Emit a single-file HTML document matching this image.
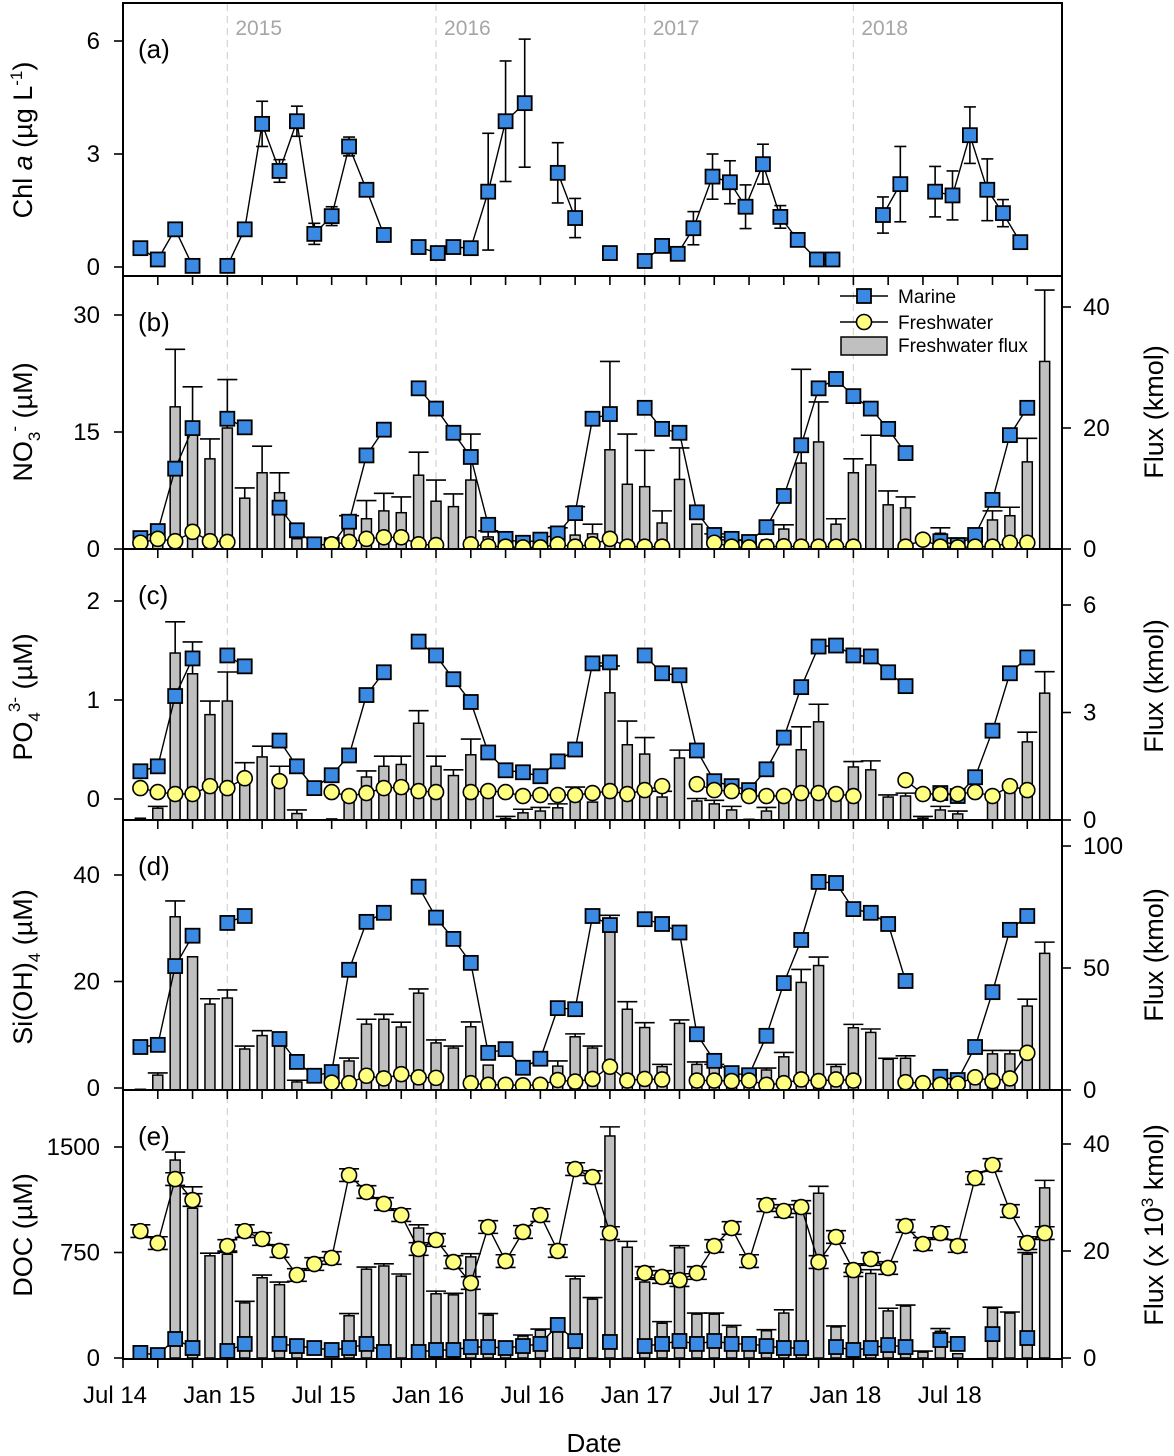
<!DOCTYPE html>
<html><head><meta charset="utf-8"><style>
html,body{margin:0;padding:0;background:#fff;}
svg{display:block;font-family:"Liberation Sans",Arial,sans-serif;}
</style></head><body>
<svg id="chart" width="1174" height="1456" viewBox="0 0 1174 1456" xmlns="http://www.w3.org/2000/svg">
<g id="bg"></g>
<g id="marks"></g>
<g id="axes"></g>
</svg>
<script>
// ---- data (t = months since Jul 2014) ----
const xLabels=["Jul 14","Jan 15","Jul 15","Jan 16","Jul 16","Jan 17","Jul 17","Jan 18","Jul 18"];
const yearLabels=["2015","2016","2017","2018"];
// (a) Chl a
const aT=[1,2,3,4,6,7,8,9,10,11,12,13,14,15,17,18.1,19,20,21,22,23.1,25,26,28,30,31,31.9,32.8,33.9,34.9,35.8,36.8,37.8,38.8,39.9,40.8,43.7,44.7,46.7,47.7,48.7,49.7,50.6,51.6];
const aChl=[0.5,0.2,1.0,0.03,0.03,1.0,3.8,2.55,3.87,0.88,1.35,3.2,2.05,0.85,0.53,0.37,0.53,0.5,2.0,3.87,4.35,2.5,1.3,0.37,0.16,0.56,0.35,1.03,2.4,2.25,1.6,2.73,1.33,0.72,0.2,0.2,1.38,2.2,2.0,1.9,3.5,2.05,1.43,0.66];
const aErr=[0.1,0.1,0.12,0.05,0.05,0.15,0.6,0.3,0.4,0.28,0.25,0.25,0.15,0.1,0.08,0.08,0.1,0.1,1.55,1.6,1.7,0.8,0.52,0.15,0.1,0.1,0.1,0.44,0.6,0.57,0.58,0.53,0.3,0.1,0.08,0.08,0.48,1.0,0.67,0.65,0.75,0.82,0.36,0.17];
// marine sampling months (b-d)
const marT=[1,2,3,4,6,7,9,10,11,12,13,14,15,17,18,19,20,21,22,23,24,25,26,27,28,30,31,32,33,34,35,36,37,38,39,40,41,42,43,44,45,47,48,49,50,51,52];
// (b) NO3
const bMar=[1.4,2.3,10.3,15.5,16.7,15.6,5.3,2.4,0.6,0.5,3.5,12,15.3,20.6,18,14.9,11.8,3.1,1.3,0.8,1.2,2,4.6,16.7,17.3,18.1,15.4,14.9,4.7,1.8,1.3,0.9,2.8,6.8,13.3,20.6,21.8,19.6,18,15.4,12.3,1.0,0.5,1.8,6.3,14.6,18.1];
const bFreT=[1,2,3,4,5,6,12,13,14,15,16,17,18,20,21,22,23,24,25,26,27,28,29,30,31,34,35,36,37,38,39,40,41,42,45,46,47,48,49,50,51,52];
const bFre=[0.8,1.3,1.0,2.2,1.0,0.9,0.6,0.9,1.3,1.5,1.5,0.6,0.5,0.6,0.35,0.3,0.2,0.2,0.6,0.3,0.6,1.3,0.3,0.3,0.3,0.8,0.3,0.2,0.3,0.35,0.3,0.3,0.3,0.3,0.3,1.2,0.3,0.2,0.3,0.3,0.8,0.8];
const bFluxT=[1,2,3,4,5,6,7,8,9,10,12,13,14,15,16,17,18,19,20,21,22,24,25,26,27,28,29,30,31,32,33,34,35,37,38,39,40,41,42,43,44,45,47,48,50,51,52,53];
const bFlux=[0.3,0.8,23.5,20,14.9,20,8.4,12.6,9.3,1.7,0.3,3.5,5,6.3,6,12.2,7.9,7,11.4,2,1.2,0.5,0.8,2.3,2.5,16.4,10.7,10.3,4.3,11.5,4.1,1.0,0.5,1.5,3.3,14.2,17.7,4.1,12.6,13.9,7.3,6.8,2.6,1,4.8,5.5,14.4,31];
const bFluxHi=[0,0,33,26.8,18.2,28,10.1,17,12.6,0,0,5.5,8,9.2,8.6,16,11.4,9.1,19,3,0,0,3.5,7,4.1,31,19,16.3,6.3,16.7,0,2.5,1.5,0,4,29.7,24.3,5,14.9,18.8,9.6,8.6,3.5,1.8,6.3,6.9,18.3,42.8];
// (c) PO4
const cMar=[0.28,0.33,1.04,1.42,1.45,1.34,0.59,0.33,0.11,0.24,0.44,1.05,1.28,1.59,1.45,1.21,0.98,0.47,0.29,0.27,0.23,0.38,0.5,1.37,1.38,1.45,1.27,1.25,0.49,0.18,0.13,0.09,0.3,0.62,1.13,1.54,1.55,1.45,1.44,1.28,1.14,0.06,0.03,0.22,0.69,1.27,1.43];
const cFreT=[1,2,3,4,5,6,7,9,12,13,14,15,16,17,18,20,21,22,23,24,25,26,27,28,29,30,31,33,34,35,36,37,38,39,40,41,42,45,46,47,48,49,50,51,52];
const cFre=[0.11,0.07,0.05,0.05,0.13,0.11,0.21,0.18,0.07,0.03,0.06,0.11,0.12,0.08,0.07,0.07,0.08,0.07,0.03,0.04,0.04,0.04,0.06,0.08,0.05,0.09,0.13,0.15,0.09,0.08,0.03,0.03,0.03,0.06,0.06,0.05,0.03,0.19,0.05,0.05,0.05,0.07,0.03,0.13,0.09];
const cFluxT=[1,2,3,4,5,6,7,8,9,10,12,13,14,15,16,17,18,19,20,21,22,23,24,25,26,27,28,29,30,31,32,33,34,35,36,37,38,39,40,41,42,43,44,45,46,47,48,50,51,52,53];
const cFlux=[0.05,0.33,4.66,4.08,2.94,3.32,1.17,1.76,1.06,0.18,0.03,0.6,1.2,1.5,1.55,2.7,1.5,1.24,1.82,0.8,0.04,0.2,0.25,0.34,0.6,0.5,3.55,2.1,1.84,0.64,1.73,0.53,0.45,0.28,0.02,0.25,0.6,1.96,2.74,0.6,1.48,1.4,0.64,0.67,0.05,0.28,0.17,0.5,1.06,2.18,3.54];
const cFluxHi=[0,0.38,5.53,4.97,3.32,4.13,1.6,2.06,1.5,0.28,0,0,1.37,1.78,1.78,3.05,1.78,1.4,2.26,0,0.1,0.3,0.35,0.45,0.92,0,4.3,2.76,2.3,0.8,1.95,0.6,0.55,0.38,0,0.35,0,2.6,3.23,0,1.63,1.65,0.7,0.75,0.1,0.38,0.25,0,0,2.45,4.14];
// (d) Si(OH)4
const dMar=[7.7,8.1,22.9,28.6,31,32.3,9.2,4.9,2.3,3.0,22.2,31.2,32.9,37.8,32,28,23.5,6.6,7.3,3.8,5.5,15,14.8,32.3,30.6,31.7,30.8,29.2,10.1,5.1,2.8,2.4,9.8,19.7,27.8,38.7,38.5,33.6,32.9,30.8,20.1,2.1,1.5,7.7,18,29.7,32.3];
const dFreT=[12,13,14,15,16,17,18,20,21,22,23,24,25,26,27,28,29,30,31,33,34,35,36,37,38,39,40,41,42,45,46,47,48,49,50,51,52];
const dFre=[1.0,0.9,2.3,1.8,2.6,2.0,1.9,0.9,0.6,0.6,0.5,0.6,1.5,1.2,1.7,4.0,1.4,1.7,1.6,1.4,1.4,1.3,1.4,0.6,0.9,1.6,1.3,1.6,1.4,1.1,0.9,0.6,0.8,2.0,1.3,1.8,6.6];
const dFluxT=[1,2,3,4,5,6,7,8,9,10,13,14,15,16,17,18,19,20,21,24,25,26,27,28,29,30,31,32,33,34,35,36,37,38,39,40,41,42,43,44,45,47,49,50,51,52,53];
const dFlux=[0.3,6.1,71,54.6,35.2,37.7,16.8,22.3,19.3,3.3,11.9,27,29,25.8,39.7,19.3,17.2,25.9,10.2,4,9.8,21.8,17.2,64.8,33.1,25.6,9.6,27.3,10.5,9.6,3,1.5,8.2,13.6,44.1,51,9.6,25.5,23.6,12.6,13,3,3,14.8,14.8,34.4,56];
const dFluxHi=[0,7,77.5,0,37.4,41,18,24.3,0,4,13.1,29,31,27.8,41.4,20.5,18,27.9,0,0,11.9,23,18,71.6,36.2,27.6,10.5,28.7,11.5,10.5,0,0,9,15.4,49.4,54.5,10.5,26.9,25,13,14,0,0,16.2,16.2,37.2,60.6];
// (e) DOC
const eMarT=[1,2,3,4,6,7,9,10,11,12,13,14,15,17,18,19,20,21,22,23,24,25,26,28,30,31,32,33,34,35,36,37,38,39,41,42,43,44,45,47,48,50,52];
const eMar=[36,21,135,71,50,100,100,85,71,57,71,100,43,43,57,57,78,78,71,85,100,235,120,114,85,100,121,100,121,100,100,85,71,71,78,57,71,92,78,128,100,170,142];
const eFreT=[1,2,3,4,6,7,8,9,10,11,12,13,14,15,16,17,18,19,20,21,22,23,24,25,26,27,28,30,31,32,33,34,35,36,37,38,39,40,41,42,43,44,45,46,47,48,49,50,51,52,53];
const eFre=[902,817,1272,1123,796,902,846,761,590,668,711,1300,1180,1095,1016,775,839,682,533,931,689,896,1016,761,1343,1286,888,604,576,554,604,796,924,689,1087,1045,1073,682,860,625,704,640,938,810,888,796,1279,1372,1045,817,888];
const eFluxT=[3,4,5,6,7,8,9,10,13,14,15,16,17,18,19,20,21,22,23,24,25,26,27,28,29,30,31,32,33,34,35,36,37,38,39,40,41,42,43,44,45,46,47,48,50,51,52,53];
const eFlux=[37,28,19.1,19.4,10.3,15,13.7,1,7.9,16.6,17.2,15.3,24.3,12,11.8,18.9,8,1.5,4.1,5.2,5,14.8,11,41.5,20.7,14.2,6.5,20.6,8.2,8.2,5.8,3,5.1,8.4,27,30.8,5.8,15.5,15.8,8.8,9.7,1.1,5,0.8,9.3,8.4,19.4,31.8];
const eFluxHi=[38.5,32,19.6,20,10.6,15.5,14.2,0,8.3,17,17.6,15.7,24.9,12.5,12.1,19.5,8.3,0,4.3,5.4,0,15.3,11.3,43.2,21.8,15,6.8,21,8.4,8.4,6.1,0,5.3,9,0,32.1,6,16,16.5,9.3,9.9,1.3,5.5,0,9.5,8.6,19.7,33.2];

const NS="http://www.w3.org/2000/svg";
const bg=document.getElementById('bg'), marks=document.getElementById('marks'), axes=document.getElementById('axes');
const X0=123,X1=1062,PX=17.39;
function xS(t){return X0+t*PX;}
function mk(tag,attrs,parent){const e=document.createElementNS(NS,tag);for(const k in attrs)e.setAttribute(k,attrs[k]);parent.appendChild(e);return e;}
function lin(v0,p0,v1,p1){return v=>p0+(v-v0)*(p1-p0)/(v1-v0);}

const panels=[
 {id:'a',top:3,bot:276,yL:lin(0,267,6,41),lt:[0,3,6],label:'(a)'},
 {id:'b',top:276,bot:549,yL:lin(0,549,30,315),yR:lin(0,549,40,307),lt:[0,15,30],rt:[0,20,40],label:'(b)'},
 {id:'c',top:549,bot:820,yL:lin(0,799,2,601),yR:lin(0,820,6,605),lt:[0,1,2],rt:[0,3,6],label:'(c)'},
 {id:'d',top:820,bot:1090,yL:lin(0,1088,40,875),yR:lin(0,1090,100,846),lt:[0,20,40],rt:[0,50,100],label:'(d)'},
 {id:'e',top:1090,bot:1359,yL:lin(0,1358,1500,1147),yR:lin(0,1358,40,1144),lt:[0,750,1500],rt:[0,20,40],label:'(e)'}
];

const defs=mk('defs',{},bg);
panels.forEach(p=>{const c=mk('clipPath',{id:'clip-'+p.id},defs);mk('rect',{x:X0,y:p.top,width:X1-X0,height:p.bot-p.top},c);});

[6,18,30,42].forEach((t,i)=>{
 const l=mk('line',{x1:xS(t),x2:xS(t),y1:4,y2:1358,stroke:'#d4d4d4','stroke-width':1.2,'stroke-dasharray':'7,5'},bg);
 
 
 const tx=mk('text',{x:xS(t)+8,y:35,'font-size':21,fill:'#a6a6a6'},bg);tx.textContent=yearLabels[i];
 
 
});

function errV(g,x,y1,y2,cw){mk('line',{x1:x,x2:x,y1:y1,y2:y2,stroke:'#000','stroke-width':1.6},g);mk('line',{x1:x-cw,x2:x+cw,y1:y1,y2:y1,stroke:'#000','stroke-width':1.6},g);mk('line',{x1:x-cw,x2:x+cw,y1:y2,y2:y2,stroke:'#000','stroke-width':1.6},g);}
function drawLine(g,T,V,ys,name){
 let d='';for(let i=0;i<T.length;i++){const x=xS(T[i]),y=ys(V[i]);d+=(i>0&&T[i]-T[i-1]<1.5?'L':'M')+x.toFixed(1)+' '+y.toFixed(1);}
 const p=mk('path',{d:d,fill:'none',stroke:'#000','stroke-width':1.4},g);
 
 
}
function drawBars(p,T,V,H){
 const g=mk('g',{'clip-path':'url(#clip-'+p.id+')'},marks);
 
 
 for(let i=0;i<T.length;i++){
  const x=xS(T[i]),y=p.yR(V[i]),y0=p.yR(0);
  if(H[i]>V[i]){mk('line',{x1:x,x2:x,y1:y,y2:p.yR(H[i]),stroke:'#000','stroke-width':1.6},g);mk('line',{x1:x-10,x2:x+10,y1:p.yR(H[i]),y2:p.yR(H[i]),stroke:'#000','stroke-width':1.6},g);}
  const r=mk('rect',{x:x-5,y:Math.min(y,y0-0.5),width:10,height:Math.max(0.5,y0-y),fill:'#c0c0c0',stroke:'#000','stroke-width':1.5},g);
  
  
 }
}
function drawMarine(p,T,V,E){
 const g=mk('g',{'clip-path':'url(#clip-'+p.id+')'},marks);
 
 
 drawLine(g,T,V,p.yL,'marine-line-'+p.id);
 for(let i=0;i<T.length;i++){const x=xS(T[i]);const e=Array.isArray(E)?E[i]:E;errV(g,x,p.yL(V[i]+e),p.yL(V[i]-e),6);}
 for(let i=0;i<T.length;i++){const x=xS(T[i]),y=p.yL(V[i]);
  const r=mk('rect',{x:x-7,y:y-7,width:14,height:14,fill:'#3a89e2',stroke:'#000','stroke-width':1.8},g);
  
  }
}
function drawFresh(p,T,V,E){
 const g=mk('g',{'clip-path':'url(#clip-'+p.id+')'},marks);
 
 
 drawLine(g,T,V,p.yL,'freshwater-line-'+p.id);
 if(E>0)for(let i=0;i<T.length;i++){const x=xS(T[i]);errV(g,x,p.yL(V[i]+E),p.yL(V[i]-E),10);}
 for(let i=0;i<T.length;i++){const x=xS(T[i]),y=p.yL(V[i]);
  const c=mk('circle',{cx:x,cy:y,r:7.5,fill:'#ffff80',stroke:'#000','stroke-width':1.6},g);
  
  }
}
const P={};panels.forEach(p=>P[p.id]=p);
drawMarine(P.a,aT,aChl,aErr);
drawBars(P.b,bFluxT,bFlux,bFluxHi);drawMarine(P.b,marT,bMar,0.35);drawFresh(P.b,bFreT,bFre,0);
drawBars(P.c,cFluxT,cFlux,cFluxHi);drawMarine(P.c,marT,cMar,0.025);drawFresh(P.c,cFreT,cFre,0);
drawBars(P.d,dFluxT,dFlux,dFluxHi);drawMarine(P.d,marT,dMar,0.5);drawFresh(P.d,dFreT,dFre,0);
drawBars(P.e,eFluxT,eFlux,eFluxHi);drawMarine(P.e,eMarT,eMar,12);drawFresh(P.e,eFreT,eFre,45);

panels.forEach(p=>{
 const r=mk('rect',{x:X0,y:p.top,width:X1-X0,height:p.bot-p.top,fill:'none',stroke:'#000','stroke-width':2},axes);
 
 
 for(let t=0;t<=54;t+=2){mk('line',{x1:xS(t),x2:xS(t),y1:p.bot,y2:p.bot+9,stroke:'#000','stroke-width':1.6},axes);}
 p.lt.forEach(v=>{const y=p.yL(v);mk('line',{x1:X0-9,x2:X0,y1:y,y2:y,stroke:'#000','stroke-width':1.6},axes);
  const t=mk('text',{x:100,y:y+8,'font-size':24,'text-anchor':'end'},axes);t.textContent=v;
  
  });
 if(p.rt)p.rt.forEach(v=>{const y=p.yR(v);mk('line',{x1:X1,x2:X1+9,y1:y,y2:y,stroke:'#000','stroke-width':1.6},axes);
  const t=mk('text',{x:1083,y:y+8,'font-size':24},axes);t.textContent=v;
  
  });
 const lb=mk('text',{x:138,y:p.top+55,'font-size':26},axes);lb.textContent=p.label;
 
 
});
xLabels.forEach((s,i)=>{const t=mk('text',{x:xS(i*6)-8,y:1403,'font-size':24,'text-anchor':'middle'},axes);t.textContent=s;
 
 });
</script>
<svg style="position:absolute;left:0;top:0" width="1174" height="1456" font-family="Liberation Sans, Arial, sans-serif">
<text x="594" y="1452" font-size="26" text-anchor="middle">Date</text>
<text transform="translate(32,140) rotate(-90)" font-size="27" text-anchor="middle">Chl <tspan font-style="italic">a</tspan> (µg L<tspan font-size="17" dy="-10">-1</tspan><tspan dy="10">)</tspan></text>
<text transform="translate(32,422) rotate(-90)" font-size="27" text-anchor="middle">NO<tspan font-size="17" dy="8">3</tspan><tspan font-size="17" dy="-20">-</tspan><tspan dy="12"> (µM)</tspan></text>
<text transform="translate(32,697) rotate(-90)" font-size="27" text-anchor="middle">PO<tspan font-size="17" dy="8">4</tspan><tspan font-size="17" dy="-20">3-</tspan><tspan dy="12"> (µM)</tspan></text>
<text transform="translate(32,967) rotate(-90)" font-size="27" text-anchor="middle">Si(OH)<tspan font-size="17" dy="8">4</tspan><tspan dy="-8"> (µM)</tspan></text>
<text transform="translate(32,1235) rotate(-90)" font-size="27" text-anchor="middle">DOC (µM)</text>
<text transform="translate(1163,412) rotate(-90)" font-size="27" text-anchor="middle">Flux (kmol)</text>
<text transform="translate(1163,686) rotate(-90)" font-size="27" text-anchor="middle">Flux (kmol)</text>
<text transform="translate(1163,955) rotate(-90)" font-size="27" text-anchor="middle">Flux (kmol)</text>
<text transform="translate(1163,1225) rotate(-90)" font-size="27" text-anchor="middle">Flux (x 10<tspan font-size="17" dy="-10">3</tspan><tspan dy="10"> kmol)</tspan></text>
<g font-size="19">
 <g>
  <line x1="840" x2="888" y1="296" y2="296" stroke="#000" stroke-width="1.5"/>
  <rect x="857" y="289" width="14" height="14" fill="#3a89e2" stroke="#000" stroke-width="1.8"/>
  <text x="898" y="303">Marine</text>
 </g>
 <g>
  <line x1="840" x2="888" y1="322" y2="322" stroke="#000" stroke-width="1.5"/>
  <circle cx="864" cy="322" r="7.5" fill="#ffff80" stroke="#000" stroke-width="1.6"/>
  <text x="898" y="329">Freshwater</text>
 </g>
 <g>
  <rect x="841" y="337" width="46" height="18" fill="#c0c0c0" stroke="#000" stroke-width="1.5"/>
  <text x="898" y="352">Freshwater flux</text>
 </g>
</g>
</svg>
</body></html>
